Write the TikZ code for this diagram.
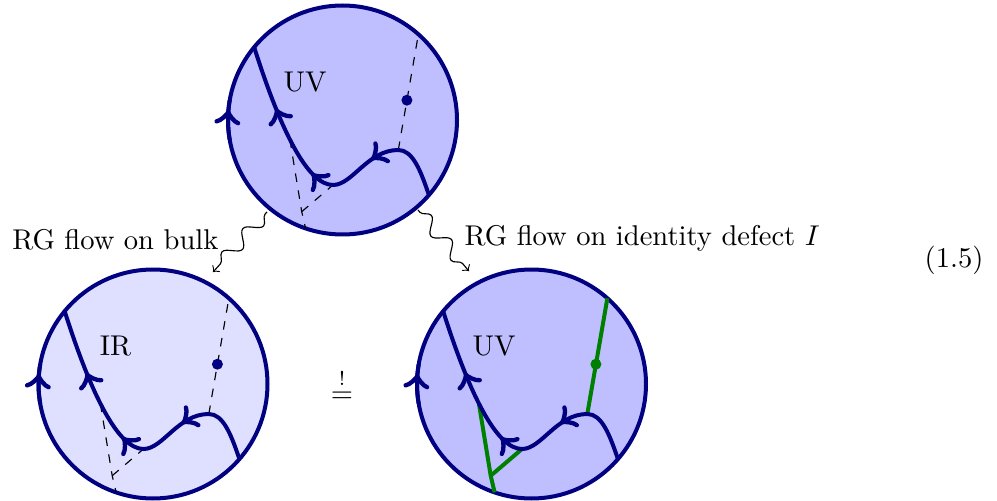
\documentclass[tikz,border=0pt]{standalone}
\usetikzlibrary{decorations.markings,decorations.pathmorphing,calc}
\definecolor{dnavy}{RGB}{0,0,128}
\definecolor{fillUV}{RGB}{191,191,255}
\definecolor{fillIR}{RGB}{223,223,255}
\definecolor{dgreen}{RGB}{0,128,0}
\tikzset{
  bubble/.style={circle, minimum size=80.15pt, inner sep=0pt, draw=dnavy, line width=1.4pt},
  wilson/.style={draw=dnavy, line width=1.4pt, postaction={decorate},
    decoration={markings,
      mark=at position 0.29 with {\arrow[scale=1.35]{>}},
      mark=at position 0.53 with {\arrow[scale=1.35]{>}},
      mark=at position 0.78 with {\arrow[scale=1.35]{>}}}},
  circarrow/.style={draw=dnavy, line width=1.4pt, postaction={decorate},
    decoration={markings, mark=at position 0.75 with {\arrow[scale=1.35]{>}}}},
  cutline/.style={draw=black, dashed, line width=0.4pt},
  defline/.style={draw=dgreen, line width=1.4pt},
  flowarrow/.style={->, line width=0.4pt, decorate,
    decoration={snake, amplitude=2.4pt, segment length=11pt, pre length=1pt, post length=3pt}},
  lbl/.style={inner sep=0pt},
}
\newcommand{\bubblecontent}[3]{% #1 centre node, #2 label, #3 mode 1 dashed / 2 green
\begin{scope}[shift={(#1.center)}]
  \coordinate (#1-X) at (55.8,-30);
  \coordinate (#1-M) at (-9.5,-65);
  \coordinate (#1-P) at (-52.6,-19.6);
  \coordinate (#1-J) at (-40.8,-91.7);
  \coordinate (#1-B1) at (48.5:114.5);
  \coordinate (#1-B2) at (-108.8:114.5);
  \coordinate (#1-D) at (64.4,19.8);
  \coordinate (#1-E) at (-41:114.5);
  \coordinate (#1-S) at (140.5:114.5);
  \ifnum#3=1
    \draw[cutline] (#1-X) -- (#1-B1);
    \draw[cutline] (#1-P) -- (#1-J) -- (#1-B2);
    \draw[cutline] (#1-J) -- (#1-M);
  \else
    \draw[defline] (#1-X) -- (#1-B1);
    \draw[defline] (#1-P) -- (#1-J) -- (#1-B2);
    \draw[defline] (#1-J) -- (#1-M);
  \fi
  \draw[wilson] (#1-E) .. controls (78,-50) and (70,-30) .. (#1-X)
     .. controls (25,-30) and (10,-65) .. (#1-M)
     .. controls (-35,-65) and (-62,-10) .. (#1-S);
  \ifnum#3=1
    \fill[dnavy] (#1-D) circle[radius=5.5];
  \else
    \fill[dgreen] (#1-D) circle[radius=5.5];
  \fi
  \draw[circarrow] (190:114.5) arc[start angle=190, end angle=170, radius=114.5];
  \node[lbl] (#1-lab) at (-37.5,38) {#2};
\end{scope}}
\begin{document}
\begin{tikzpicture}[x=0.35pt, y=0.35pt]
\useasboundingbox (0,0) rectangle (997,500);
\node[bubble, fill=fillUV] (top) at (342.5,380) {};
\node[bubble, fill=fillIR] (bl) at (153,116) {};
\node[bubble, fill=fillUV] (br) at (531.5,116) {};
\bubblecontent{top}{UV}{1}
\bubblecontent{bl}{IR}{1}
\bubblecontent{br}{UV}{2}
\coordinate (f1s) at ($(top.center)+(-129.4:119)$);
\coordinate (f1e) at ($(bl.center)+(61.8:127)$);
\coordinate (f2s) at ($(top.center)+(-50:117.5)$);
\coordinate (f2e) at ($(br.center)+(119:129)$);
\draw[flowarrow] (f1s) -- (f1e);
\draw[flowarrow] (f2s) -- (f2e);
\node[lbl, anchor=base east] (lab1) at (219,250) {RG flow on bulk};
\node[lbl, anchor=base west] (lab2) at (464,254) {RG flow on identity defect $I$};
\node[lbl, anchor=base east] (eqno) at (984,233) {(1.5)};
\node[lbl, anchor=base] (eq) at (342,98) {$\stackrel{!}{=}$};
\end{tikzpicture}
\end{document}
